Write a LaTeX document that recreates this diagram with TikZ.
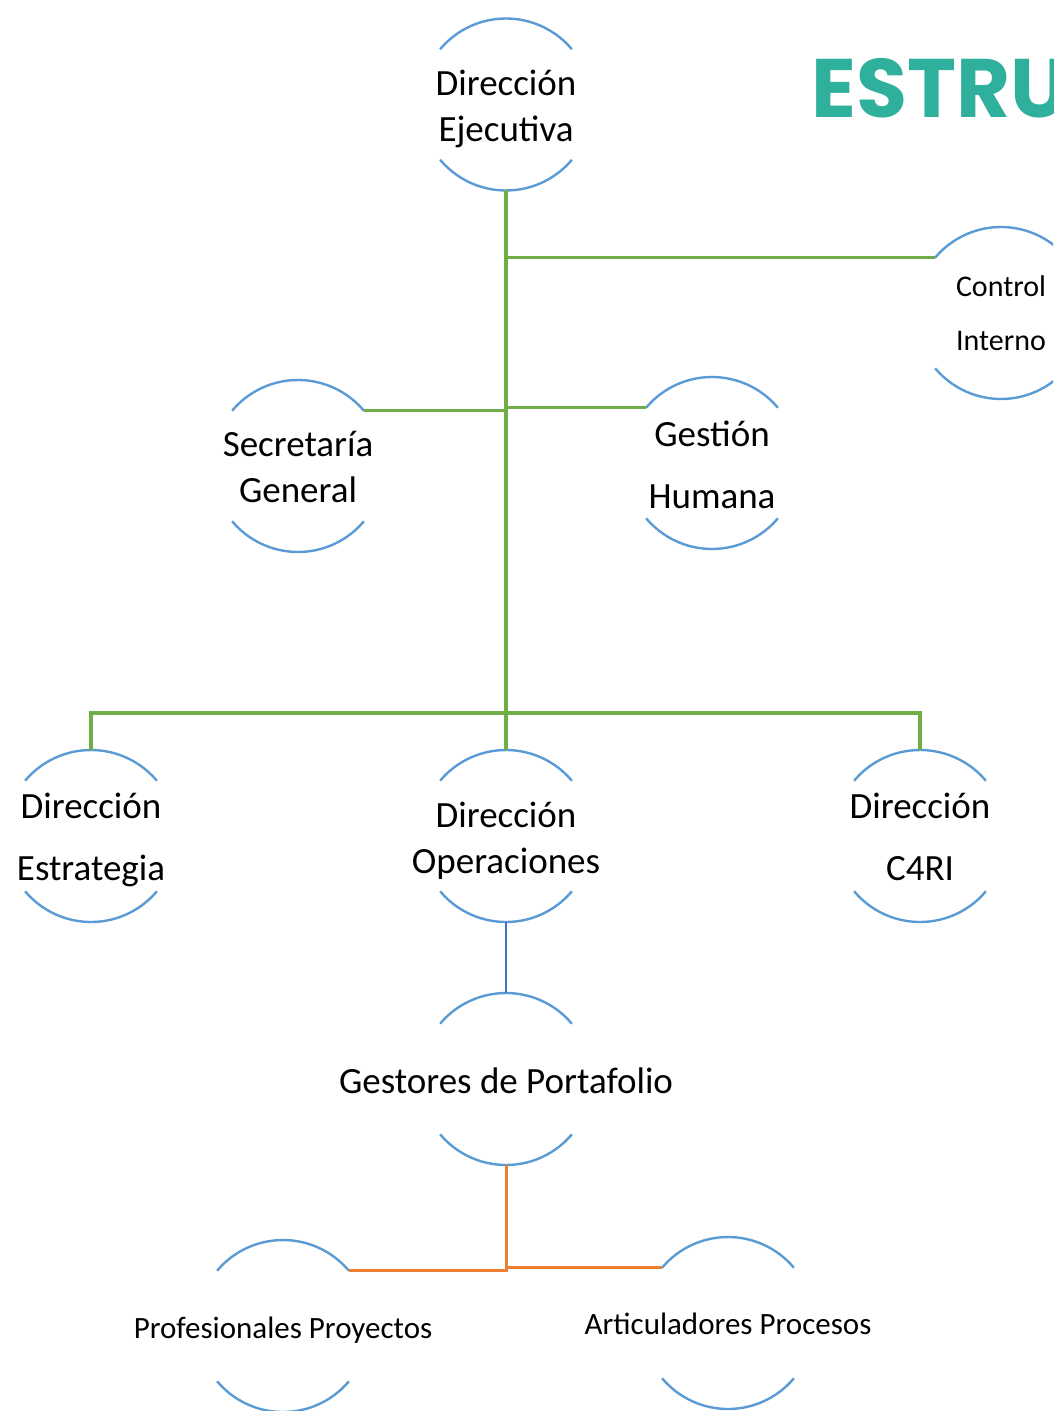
\documentclass[tikz,border=0pt]{standalone}
\usepackage{fontspec}
\setmainfont{Carlito}
\newfontfamily\titlefont{Poppins}
\definecolor{arcblue}{HTML}{5B9BD5}
\definecolor{lgreen}{HTML}{70AD47}
\definecolor{lblue}{HTML}{4472C4}
\definecolor{lorange}{HTML}{ED7D31}
\definecolor{titleteal}{HTML}{2EB09C}
\begin{document}
\begin{tikzpicture}[x=0.5pt,y=-0.5pt,
  unit/.style={circle,minimum size=86pt,inner sep=0pt,outer sep=0pt},
  arcline/.style={draw=arcblue,line width=1.2pt},
  greenline/.style={draw=lgreen,line width=1.6pt},
  blueline/.style={draw=lblue,line width=1pt},
  orangeline/.style={draw=lorange,line width=1.5pt},
  lbl/.style={align=center,inner sep=0pt},
  bigA/.style={lbl,font=\fontsize{18.5}{23}\selectfont},
  bigB/.style={lbl,font=\fontsize{18.5}{31}\selectfont},
  small/.style={lbl,font=\fontsize{15}{27}\selectfont},
  smaller/.style={lbl,font=\fontsize{15.5}{18}\selectfont}]
\useasboundingbox (0,0) rectangle (1053,1411);
\clip (0,0) rectangle (1053,1411);
\fill[white] (0,0) rectangle (1053,1411);

% units
\node[unit] (ej) at (506,104.5) {};
\node[unit] (ctrl) at (1001,313) {};
\node[unit] (sec) at (298,466) {};
\node[unit] (ges) at (712,463) {};
\node[unit] (est) at (91,836) {};
\node[unit] (op) at (506,836) {};
\node[unit] (c4) at (920,836) {};
\node[unit] (gp) at (506,1079) {};
\node[unit] (prof) at (283,1326) {};
\node[unit] (art) at (728,1323) {};

\foreach \n in {ej,ctrl,sec,ges,est,op,c4,gp,prof,art}{
  \draw[arcline] (\n.40) arc[start angle=40,end angle=140,radius=43pt];
  \draw[arcline] (\n.220) arc[start angle=220,end angle=320,radius=43pt];
}

% texts
\node[bigA] (tej) at (506,109) {Dirección\\Ejecutiva};
\node[small] (tctrl) at (1001,313) {Control\\Interno};
\node[bigA] (tsec) at (298,467) {Secretaría\\General};
\node[bigB] (tges) at (712,465) {Gestión\\Humana};
\node[bigB] (test) at (91,840) {Dirección\\Estrategia};
\node[bigA] (top) at (506,841) {Dirección\\Operaciones};
\node[bigB] (tc4) at (920,837) {Dirección\\C4RI};
\node[bigA] (tgp) at (506,1081) {Gestores de Portafolio};
\node[smaller] (tprof) at (283,1330) {Profesionales Proyectos};
\node[smaller] (tart) at (728,1324) {Articuladores Procesos};

\node[anchor=base west,inner sep=0pt,text=titleteal,font=\titlefont\bfseries\fontsize{41.5}{45}\selectfont] (title) at (811,118) {ESTRU};

% connectors
\coordinate (bar) at (506,713);
\draw[greenline] (ej.south) -- (op.north);
\draw[greenline] (ej.south |- ctrl.140) -- (ctrl.140);
\draw[greenline] (sec.40) -- (ej.south |- sec.40);
\draw[greenline] (ej.south |- ges.140) -- (ges.140);
\draw[greenline] (est.north) -- (est.north |- bar) -- (c4.north |- bar) -- (c4.north);
\draw[blueline] (op.south) -- (gp.north);
\draw[orangeline] (gp.south) -- (gp.south |- prof.40) -- (prof.40);
\draw[orangeline] (gp.south |- art.140) -- (art.140);
\end{tikzpicture}
\end{document}
